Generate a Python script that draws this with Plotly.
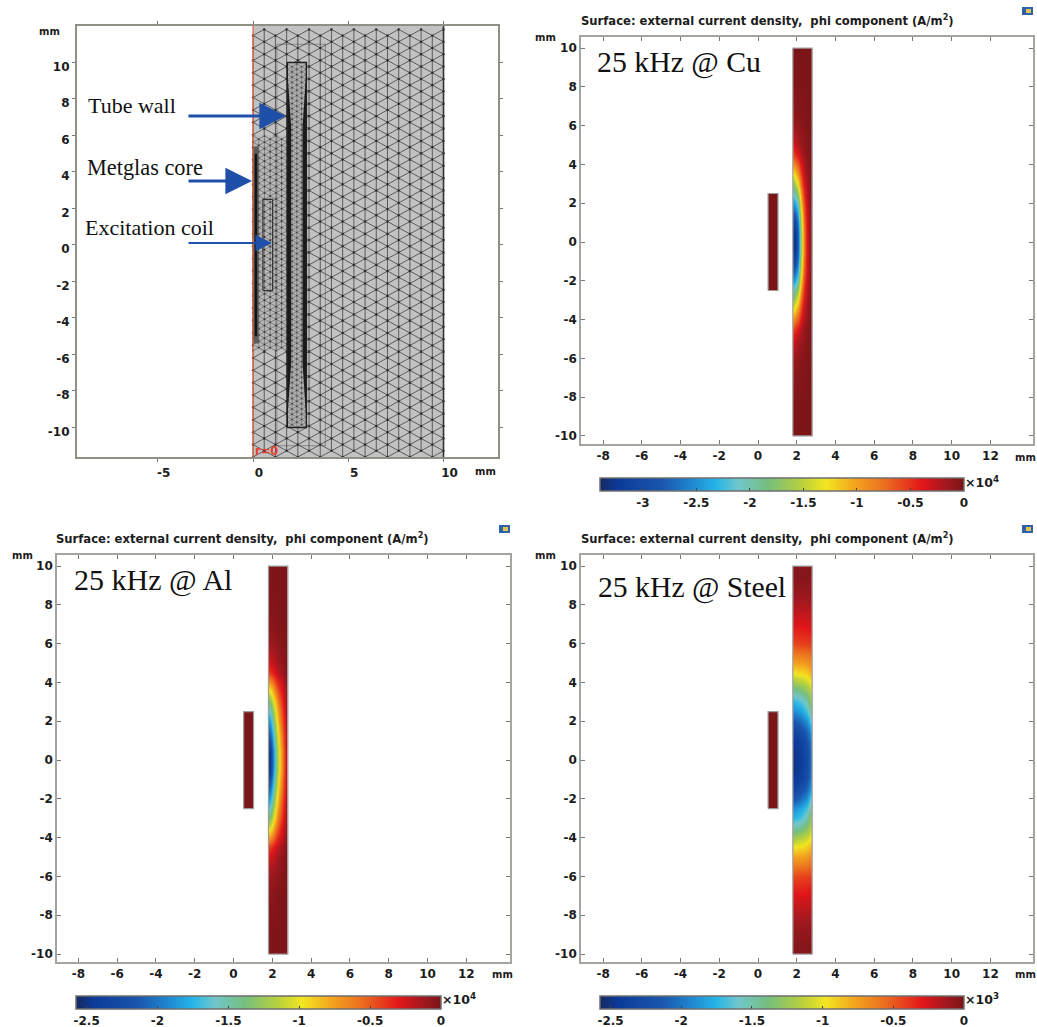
import math
import plotly.graph_objects as go

W, H = 1037, 1027

# ---------- data ----------
wall_r = [1.85, 1.95, 2.05, 2.2, 2.35, 2.5, 2.65, 2.75]
wall_y_upper = [9.5, 8.5, 7, 6, 5, 4.5, 4, 3.5, 3, 2.5, 2, 1.5, 1, 0.5, 0]

cu_upper = [
    [-.01, -.01, -.01, -.01, -.01, -.01, -.01, -.01],
    [-.02, -.02, -.02, -.02, -.02, -.01, -.01, -.01],
    [-.07, -.06, -.05, -.04, -.03, -.02, -.01, -.01],
    [-.15, -.12, -.10, -.07, -.05, -.03, -.02, -.01],
    [-.36, -.28, -.22, -.14, -.09, -.05, -.03, -.02],
    [-.55, -.47, -.40, -.23, -.13, -.07, -.04, -.02],
    [-.88, -.76, -.65, -.38, -.20, -.10, -.05, -.03],
    [-1.28, -1.11, -.95, -.56, -.28, -.14, -.07, -.03],
    [-1.66, -1.48, -1.28, -.74, -.38, -.18, -.09, -.04],
    [-2.04, -1.87, -1.64, -.98, -.49, -.23, -.11, -.05],
    [-2.42, -2.27, -2.01, -1.20, -.60, -.27, -.13, -.06],
    [-2.78, -2.64, -2.35, -1.40, -.70, -.31, -.15, -.06],
    [-3.05, -2.92, -2.61, -1.55, -.78, -.34, -.16, -.07],
    [-3.25, -3.11, -2.77, -1.67, -.83, -.36, -.17, -.07],
    [-3.33, -3.16, -2.82, -1.70, -.85, -.37, -.17, -.07],
]
al_upper = [
    [-.01, -.01, -.01, -.01, -.01, -.01, -.01, -.01],
    [-.02, -.02, -.02, -.02, -.01, -.01, -.01, -.01],
    [-.06, -.05, -.05, -.03, -.02, -.02, -.01, -.01],
    [-.12, -.11, -.09, -.07, -.05, -.03, -.02, -.01],
    [-.26, -.24, -.20, -.14, -.10, -.07, -.03, -.02],
    [-.41, -.37, -.31, -.22, -.16, -.11, -.05, -.03],
    [-.72, -.65, -.55, -.39, -.28, -.19, -.09, -.05],
    [-1.05, -.94, -.79, -.57, -.40, -.27, -.13, -.08],
    [-1.36, -1.23, -1.03, -.75, -.52, -.35, -.17, -.10],
    [-1.62, -1.46, -1.22, -.88, -.62, -.42, -.20, -.12],
    [-1.85, -1.66, -1.39, -1.00, -.70, -.47, -.22, -.13],
    [-2.06, -1.86, -1.56, -1.13, -.79, -.53, -.25, -.15],
    [-2.26, -2.04, -1.71, -1.24, -.86, -.58, -.27, -.16],
    [-2.44, -2.20, -1.84, -1.33, -.93, -.63, -.29, -.18],
    [-2.49, -2.24, -1.88, -1.36, -.95, -.64, -.30, -.18],
]
steel_upper = [
    [-.04, -.04, -.04, -.04, -.04, -.04, -.04, -.04],
    [-.10, -.10, -.10, -.10, -.10, -.10, -.10, -.10],
    [-.28, -.28, -.28, -.28, -.27, -.27, -.26, -.26],
    [-.44, -.44, -.44, -.43, -.43, -.42, -.42, -.41],
    [-.77, -.77, -.76, -.75, -.74, -.72, -.70, -.67],
    [-.98, -.98, -.95, -.95, -.93, -.90, -.85, -.82],
    [-1.21, -1.21, -1.18, -1.16, -1.13, -1.08, -1.03, -.98],
    [-1.49, -1.47, -1.47, -1.42, -1.36, -1.31, -1.24, -1.16],
    [-1.75, -1.72, -1.70, -1.67, -1.59, -1.52, -1.39, -1.31],
    [-1.90, -1.88, -1.85, -1.82, -1.75, -1.67, -1.54, -1.46],
    [-2.13, -2.11, -2.08, -2.03, -1.95, -1.88, -1.75, -1.64],
    [-2.31, -2.29, -2.26, -2.21, -2.16, -2.06, -1.95, -1.85],
    [-2.44, -2.42, -2.39, -2.34, -2.29, -2.18, -2.08, -1.98],
    [-2.48, -2.47, -2.44, -2.39, -2.31, -2.24, -2.12, -2.03],
    [-2.49, -2.47, -2.44, -2.42, -2.34, -2.26, -2.13, -2.06],
]

coil_r = [0.52, 1.03]
coil_y = [-2.5, 2.5]
tube_r = [1.8, 2.8]
tube_y = [-10, 10]
core_r = [0.15, 0.15]
core_y = [-5, 5]

x_ticks_field = [-8, -6, -4, -2, 0, 2, 4, 6, 8, 10, 12]
y_ticks = [-10, -8, -6, -4, -2, 0, 2, 4, 6, 8, 10]
x_ticks_mesh = [-5, 0, 5, 10]

cb_cu_ticks = [-3, -2.5, -2, -1.5, -1, -0.5, 0]
cb_al_ticks = [-2.5, -2, -1.5, -1, -0.5, 0]
cb_labels = {-3: "-3", -2.5: "-2.5", -2: "-2", -1.5: "-1.5", -1: "-1", -0.5: "-0.5", 0: "0"}

title_text = "Surface: external current density,  phi component (A/m<sup>2</sup>)"

rainbow = [
    [0.0, "#17295f"], [0.05, "#0b3a98"], [0.17, "#1a56ad"], [0.25, "#1f86cf"],
    [0.32, "#25b6e8"], [0.38, "#72c6cc"], [0.46, "#74bf80"], [0.55, "#b5cf3f"],
    [0.62, "#f2e622"], [0.70, "#f3a41e"], [0.78, "#ec6f1f"], [0.885, "#e2161a"],
    [0.95, "#a3181f"], [1.0, "#7a1518"],
]

TEXT = "#1c1c1c"
BOLD = "DejaVu Sans"
SERIF = "Liberation Serif"

def px(x): return x / W
def py(y): return 1 - y / H

y_full = [-v for v in wall_y_upper] + wall_y_upper[-2::-1]

def full_rows(upper):
    return upper + upper[-2::-1]

fig = go.Figure()

# axis boxes in pixels: left, right, top, bottom, with mm range
panels = {
    "": dict(l=77, r=498, t=26, b=457, xr=[-9.24, 12.86], yr=[-11.62, 12.0]),
    "2": dict(l=581, r=1033, t=37, b=443.5, xr=[-9.14, 14.2], yr=[-10.39, 10.57]),
    "3": dict(l=57, r=510, t=555, b=962, xr=[-9.1, 14.25], yr=[-10.41, 10.57]),
    "4": dict(l=581, r=1033, t=555, b=962, xr=[-9.14, 14.2], yr=[-10.41, 10.57]),
}

layout_axes = {}
for key, p in panels.items():
    is_mesh = key == ""
    common = dict(showgrid=False, zeroline=False, showline=True,
                  linecolor="#8f8f86" if is_mesh else "#a5a5a0",
                  linewidth=2.2 if is_mesh else 1.6, mirror="ticks",
                  ticks="outside" if is_mesh else "inside",
                  ticklen=3 if is_mesh else 4, tickwidth=1, tickcolor="#777777",
                  tickfont=dict(family=BOLD, size=12, color=TEXT, weight="bold"))
    xt = x_ticks_mesh if is_mesh else x_ticks_field
    layout_axes["xaxis" + key] = dict(
        common, domain=[px(p["l"]), px(p["r"])], range=p["xr"], anchor="y" + key,
        tickmode="array", tickvals=xt, ticktext=[str(t) for t in xt],
        ticklabelstandoff=0, ticklabelshift=6 if is_mesh else 0)
    layout_axes["yaxis" + key] = dict(
        common, domain=[py(p["b"]), py(p["t"])], range=p["yr"], anchor="x" + key,
        tickmode="array", tickvals=y_ticks, ticktext=[str(t) for t in y_ticks],
        ticklabelstandoff=0, ticklabelshift=4 if is_mesh else 0)

# ---------- mesh panel ----------
def lattice(r0, r1, y0, y1, dx):
    a = dx * 2 / math.sqrt(3)
    nodes = {}
    ncol = int(round((r1 - r0) / dx))
    nrow = int((y1 - y0) / a) + 1
    for i in range(ncol + 1):
        for j in range(nrow + 1):
            yy = y0 + j * a + (a / 2 if i % 2 else 0)
            if yy <= y1:
                nodes[(i, j)] = (r0 + i * dx, yy)
    xs, ys = [], []
    for (i, j), (xv, yv) in nodes.items():
        nbrs = [(i, j + 1)]
        if i % 2:
            nbrs += [(i + 1, j), (i + 1, j + 1)]
        else:
            nbrs += [(i + 1, j - 1), (i + 1, j)]
        for n in nbrs:
            if n in nodes:
                xs += [xv, nodes[n][0], None]
                ys += [yv, nodes[n][1], None]
    return xs, ys, [n[0] for n in nodes.values()], [n[1] for n in nodes.values()]

def patch(rs, ys, color):
    fig.add_trace(go.Scatter(x=[rs[0], rs[1], rs[1], rs[0], rs[0]],
                             y=[ys[0], ys[0], ys[1], ys[1], ys[0]],
                             mode="lines", fill="toself", fillcolor=color,
                             line=dict(width=0), hoverinfo="skip", showlegend=False))

def draw_lattice(r0, r1, y0, y1, dx, alpha=0.6, width=0.8, node=2.2):
    xs, ys, nx, ny = lattice(r0, r1, y0, y1, dx)
    fig.add_trace(go.Scatter(x=xs, y=ys, mode="lines",
                             line=dict(color=f"rgba(35,35,35,{alpha})", width=width),
                             hoverinfo="skip", showlegend=False))
    if node:
        fig.add_trace(go.Scatter(x=nx, y=ny, mode="markers",
                                 marker=dict(color="rgba(40,40,40,0.75)", size=node),
                                 hoverinfo="skip", showlegend=False))

mesh_y = [-11.62, 12.0]
patch([0, 10], mesh_y, "#c2c2c2")
draw_lattice(0, 10, mesh_y[0], mesh_y[1], 10 / 17, alpha=0.72, width=0.9, node=2.6)
patch([0, 1.75], [-5.8, 6.0], "#b8b8b8")
draw_lattice(0, 1.75, -5.8, 6.0, 0.3, alpha=0.55, width=0.7, node=1.8)
patch([0, 0.3], [-5.4, 5.4], "#5c5c5c")
patch([1.8, 2.8], [-10, 10], "#b2b2b2")
draw_lattice(1.8, 2.8, -10, 10, 0.25, alpha=0.55, width=0.6, node=1.4)

wedge_inner_r = [1.8, 2.0, 2.0, 1.8, 1.8]
wedge_outer_r = [2.8, 2.6, 2.6, 2.8, 2.8]
wedge_y = [9.6, 6.5, -6.5, -9.6, 9.6]
for wr in (wedge_inner_r, wedge_outer_r):
    fig.add_trace(go.Scatter(x=wr, y=wedge_y, mode="lines", fill="toself",
                             fillcolor="rgba(15,15,15,0.92)", line=dict(width=0),
                             hoverinfo="skip", showlegend=False))

def outline(rs, ys, color, width, xa="x", ya="y"):
    fig.add_trace(go.Scatter(x=[rs[0], rs[1], rs[1], rs[0], rs[0]],
                             y=[ys[0], ys[0], ys[1], ys[1], ys[0]],
                             xaxis=xa, yaxis=ya, mode="lines",
                             line=dict(color=color, width=width),
                             hoverinfo="skip", showlegend=False))

outline(tube_r, tube_y, "#202020", 1.4)
outline(coil_r, coil_y, "#303030", 1.2)
outline([1.25, 3.8], [-11, 11], "rgba(50,50,50,0.4)", 1)
fig.add_trace(go.Scatter(x=core_r, y=core_y, mode="lines", line=dict(color="#141414", width=2.6),
                         hoverinfo="skip", showlegend=False))
fig.add_trace(go.Scatter(x=[0, 0], y=mesh_y, mode="lines", line=dict(color="#e0603c", width=1.2),
                         hoverinfo="skip", showlegend=False))
fig.add_trace(go.Scatter(x=[10, 10], y=mesh_y, mode="lines", line=dict(color="#333333", width=1.6),
                         hoverinfo="skip", showlegend=False))

# ---------- field panels ----------
fields = [
    ("2", cu_upper, -3.4, "coloraxis", 600, 364, 478, cb_cu_ticks),
    ("3", al_upper, -2.575, "coloraxis2", 76, 365, 996, cb_al_ticks),
    ("4", steel_upper, -2.575, "coloraxis3", 600, 364, 996, cb_al_ticks),
]
for key, upper, zmin, cax, cb_x, cb_len, cb_y, cb_ticks in fields:
    xa, ya = "x" + key, "y" + key
    fig.add_trace(go.Heatmap(x=wall_r, y=y_full, z=full_rows(upper), zsmooth="best",
                             coloraxis=cax, xaxis=xa, yaxis=ya, hoverinfo="skip"))
    fig.add_trace(go.Heatmap(x=coil_r, y=coil_y, z=[[0]], coloraxis=cax,
                             xaxis=xa, yaxis=ya, hoverinfo="skip"))
    outline(tube_r, tube_y, "#a09c9c", 1.2, xa, ya)
    outline(coil_r, coil_y, "#a09c9c", 1.2, xa, ya)
    layout_axes[cax] = dict(
        colorscale=rainbow, cmin=zmin, cmax=0,
        colorbar=dict(orientation="h", x=px(cb_x), y=py(cb_y), xanchor="left", yanchor="top",
                      lenmode="pixels", len=cb_len, thicknessmode="pixels", thickness=13,
                      xpad=0, ypad=0, outlinewidth=1.5, outlinecolor="#6f6f6f",
                      borderwidth=0, ticks="inside", ticklen=3, tickcolor="#444444",
                      tickmode="array", tickvals=cb_ticks,
                      ticktext=[cb_labels[t] for t in cb_ticks],
                      tickfont=dict(family=BOLD, size=12, color=TEXT, weight="bold")))

# ---------- text ----------
ann = []
def label(text, x, y, size, family=BOLD, color=TEXT, anchor="left", weight="normal"):
    ann.append(dict(text=text, x=px(x), y=py(y), xref="paper", yref="paper", showarrow=False,
                    xanchor=anchor, yanchor="middle",
                    font=dict(family=family, size=size, color=color, weight=weight)))

for tx, ty in [(579, 20), (54, 538), (579, 538)]:
    label(title_text, tx, ty, 11.6, weight="bold")
for mx, my in [(37, 32), (473, 472), (533, 38), (1013, 457), (10, 555), (490, 974), (533, 555), (1013, 974)]:
    label("mm", mx, my, 10, weight="bold")
label("25 kHz @ Cu", 595, 62, 29.8, family=SERIF, color="#111111")
label("25 kHz @ Al", 72, 580, 30, family=SERIF, color="#111111")
label("25 kHz @ Steel", 596, 587, 29.7, family=SERIF, color="#111111")
label("Tube wall", 86, 106, 22, family=SERIF, color="#111111")
label("Metglas core", 85, 167, 22.3, family=SERIF, color="#111111")
label("Excitation coil", 83, 228, 22, family=SERIF, color="#111111")
label("r=0", 253, 451, 11.5, color="#e8402f", weight="bold")
label("×10<sup>4</sup>", 963, 482, 12.5, weight="bold")
label("×10<sup>4</sup>", 440, 999, 12.5, weight="bold")
label("×10<sup>3</sup>", 963, 999, 12.5, weight="bold")

ARROW = "#1f4fa8"
for x0, x1, yy, wid, size in [(187, 286, 116, 2.8, 1.9), (187, 252, 181, 2.8, 1.9), (187, 272, 243, 2.2, 1.5)]:
    ann.append(dict(x=px(x1), y=py(yy), xref="paper", yref="paper", ax=x0 - x1, ay=0,
                    axref="pixel", ayref="pixel", showarrow=True, arrowhead=2,
                    arrowsize=size, arrowwidth=wid, arrowcolor=ARROW, text=""))

# icons at the panel corners
shapes = []
for ix, iy in [(1022, 7), (499, 525), (1022, 525)]:
    shapes.append(dict(type="rect", xref="paper", yref="paper", x0=px(ix), x1=px(ix + 11),
                       y0=py(iy + 8), y1=py(iy), fillcolor="#2f62ad", line=dict(width=0)))
    shapes.append(dict(type="rect", xref="paper", yref="paper", x0=px(ix + 4), x1=px(ix + 9),
                       y0=py(iy + 6), y1=py(iy + 2), fillcolor="#e6c64a", line=dict(width=0)))

fig.update_layout(width=W, height=H, paper_bgcolor="white", plot_bgcolor="white",
                  margin=dict(l=0, r=0, t=0, b=0, pad=0, autoexpand=False),
                  showlegend=False, annotations=ann, shapes=shapes, **layout_axes)

fig.write_html("out.html", config=dict(displayModeBar=False),
               post_script="document.body.style.margin='0';document.documentElement.style.overflow='hidden';")
